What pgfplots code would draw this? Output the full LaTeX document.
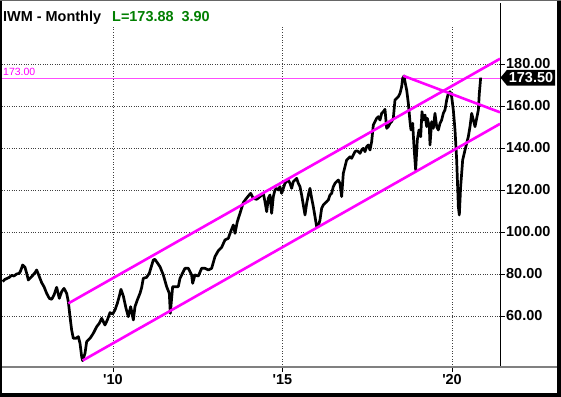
\documentclass[border=0pt]{standalone}
\usepackage{pgfplots}
\pgfplotsset{compat=1.18}
\usepackage{fontspec}
\setmainfont{Liberation Sans}
\definecolor{mag}{HTML}{FF00FF}
\definecolor{maglight}{HTML}{FF4CFF}
\definecolor{dgreen}{HTML}{007F00}
\begin{document}
\begin{tikzpicture}
\useasboundingbox (0,0) rectangle (561bp,397bp);
\fill[white] (0,0) rectangle (561bp,397bp);
\begin{axis}[
  at={(2bp,30bp)}, anchor=south west,
  scale only axis, width=498bp, height=364bp,
  xmin=2006.726, xmax=2021.416, ymin=35.71, ymax=209.05,
  axis x line*=bottom, axis y line*=right,
  x axis line style={draw=gray, line width=2bp, -},
  y axis line style={draw=black, line width=0.8bp, -},
  tick align=outside, major tick length=5bp,
  tick style={black, line width=0.8bp},
  xtick={2010,2015,2020},
  xticklabels={\textquotesingle10,\textquotesingle15,\textquotesingle20},
  ytick={60,80,100,120,140,160,180},
  yticklabels={60.00,80.00,100.00,120.00,140.00,160.00,180.00},
  ticklabel style={font=\bfseries\fontsize{14.5}{16}\selectfont},
  yticklabel style={inner xsep=1bp, inner ysep=0pt},
  xticklabel style={inner ysep=2bp},
  ymajorgrids, major grid style={dotted, black!75, line width=0.6bp},
]
\draw[dotted, black!75, line width=0.6bp] (axis cs:2010,35.71) -- (axis cs:2010,198.6);
\draw[dotted, black!75, line width=0.6bp] (axis cs:2015,35.71) -- (axis cs:2015,198.6);
\draw[dotted, black!75, line width=0.6bp] (axis cs:2020,35.71) -- (axis cs:2020,198.6);
\addplot[maglight, line width=1.4bp] coordinates {(2006.726,173) (2021.416,173)};
\addplot[black, line width=2.7bp, line join=round] coordinates {
(2006.746,76.35) (2006.814,77.46) (2006.883,77.94) (2006.942,78.41) (2007.011,79.36)
(2007.080,79.05) (2007.158,80.00) (2007.237,80.32) (2007.277,81.59) (2007.335,84.29)
(2007.404,83.17) (2007.454,80.32) (2007.503,77.14) (2007.601,78.73) (2007.699,80.63)
(2007.749,81.90) (2007.827,78.73) (2007.896,75.87) (2007.965,73.97) (2008.043,70.79)
(2008.122,68.41) (2008.191,67.94) (2008.260,70.00) (2008.338,73.65) (2008.417,68.41)
(2008.486,71.59) (2008.555,73.17) (2008.633,70.79) (2008.683,66.83) (2008.732,59.68)
(2008.781,53.33) (2008.830,49.37) (2008.909,49.37) (2008.978,50.16) (2009.027,46.98)
(2009.076,40.63) (2009.105,38.73) (2009.174,42.22) (2009.224,47.78) (2009.322,49.37)
(2009.420,51.75) (2009.519,54.92) (2009.597,56.51) (2009.666,58.89) (2009.715,57.30)
(2009.764,55.71) (2009.833,58.10) (2009.912,61.59) (2009.990,60.95) (2010.059,62.86)
(2010.128,66.03) (2010.187,69.52) (2010.236,72.70) (2010.305,69.52) (2010.384,63.65)
(2010.452,59.68) (2010.521,64.44) (2010.600,58.10) (2010.649,64.44) (2010.718,67.62)
(2010.797,70.79) (2010.845,73.50) (2010.894,77.94) (2010.993,78.41) (2011.071,80.32)
(2011.189,86.67) (2011.238,86.99) (2011.386,83.49) (2011.484,79.53) (2011.583,73.97)
(2011.661,70.79) (2011.691,61.27) (2011.760,73.97) (2011.927,73.97) (2011.976,77.94)
(2012.123,82.70) (2012.222,82.70) (2012.320,79.53) (2012.350,75.56) (2012.418,79.53)
(2012.517,79.05) (2012.615,82.70) (2012.713,82.70) (2012.812,81.90) (2012.910,82.70)
(2013.008,88.25) (2013.107,91.11) (2013.205,92.70) (2013.303,96.19) (2013.402,96.98)
(2013.471,100.16) (2013.550,103.33) (2013.599,99.37) (2013.667,104.92) (2013.746,108.89)
(2013.844,113.97) (2013.913,115.56) (2013.992,117.14) (2014.060,118.41) (2014.139,116.03)
(2014.237,115.56) (2014.336,116.83) (2014.434,118.41) (2014.483,114.45) (2014.533,109.68)
(2014.582,116.03) (2014.631,117.62) (2014.680,108.89) (2014.729,116.83) (2014.778,120.00)
(2014.828,120.79) (2014.877,120.00) (2014.926,121.59) (2014.975,118.41) (2015.024,120.79)
(2015.073,123.17) (2015.123,123.97) (2015.172,124.76) (2015.221,123.17) (2015.270,120.79)
(2015.319,123.97) (2015.369,124.76) (2015.418,125.56) (2015.467,123.17) (2015.516,121.59)
(2015.565,117.62) (2015.614,112.86) (2015.664,108.10) (2015.713,113.65) (2015.762,117.62)
(2015.811,120.79) (2015.860,116.03) (2015.909,112.06) (2015.959,107.30) (2016.008,102.54)
(2016.057,102.86) (2016.106,105.71) (2016.155,111.27) (2016.204,112.86) (2016.254,113.65)
(2016.303,114.44) (2016.352,115.24) (2016.401,117.62) (2016.450,118.41) (2016.499,121.59)
(2016.548,123.17) (2016.598,123.97) (2016.647,124.76) (2016.696,123.17) (2016.745,116.83)
(2016.794,127.94) (2016.843,131.11) (2016.893,134.29) (2016.942,135.08) (2016.991,135.87)
(2017.040,135.08) (2017.089,136.67) (2017.138,138.25) (2017.188,138.73) (2017.237,138.25)
(2017.286,137.46) (2017.335,139.05) (2017.384,139.84) (2017.433,138.25) (2017.483,140.63)
(2017.532,141.43) (2017.581,139.05) (2017.630,143.02) (2017.679,150.95) (2017.728,152.54)
(2017.778,154.13) (2017.827,154.92) (2017.876,153.33) (2017.925,156.51) (2017.974,157.30)
(2018.023,158.41) (2018.073,149.37) (2018.122,150.16) (2018.171,151.75) (2018.220,152.54)
(2018.269,154.13) (2018.318,162.86) (2018.368,163.65) (2018.417,164.44) (2018.466,166.03)
(2018.515,169.20) (2018.545,173.17) (2018.584,174.28) (2018.623,170.79) (2018.663,167.62)
(2018.712,161.27) (2018.761,152.54) (2018.790,148.57) (2018.840,151.75) (2018.879,140.63)
(2018.928,129.52) (2018.977,143.81) (2019.026,148.57) (2019.076,145.40) (2019.115,157.30)
(2019.154,153.33) (2019.204,155.71) (2019.253,150.16) (2019.272,154.13) (2019.331,150.16)
(2019.351,141.43) (2019.400,152.54) (2019.449,149.37) (2019.498,156.51) (2019.548,150.16)
(2019.597,148.57) (2019.646,151.75) (2019.695,153.33) (2019.744,156.51) (2019.793,158.10)
(2019.843,162.86) (2019.892,166.03) (2019.941,166.82) (2019.990,164.44) (2020.039,158.10)
(2020.089,148.57) (2020.138,134.29) (2020.187,112.06) (2020.216,108.09) (2020.255,121.59)
(2020.315,134.29) (2020.384,139.05) (2020.433,142.22) (2020.482,145.40) (2020.531,150.16)
(2020.580,156.51) (2020.630,153.33) (2020.679,150.16) (2020.728,154.13) (2020.777,158.10)
(2020.806,166.03) (2020.846,173.50)
};
\addplot[mag, line width=2.6bp] coordinates {(2008.683,66.0) (2021.416,182.5)};
\addplot[mag, line width=2.6bp] coordinates {(2009.105,38.8) (2021.416,151.5)};
\addplot[mag, line width=2.6bp] coordinates {(2018.56,174.4) (2021.416,157.0)};
\end{axis}
% x axis baseline extending to frame
\draw[gray, line width=2bp] (2bp,30bp) -- (557bp,30bp);
% titles
\node[anchor=base west, inner sep=0, font=\bfseries\fontsize{14.5}{16}\selectfont] at (3bp,375.5bp) {IWM - Monthly};
\node[anchor=base west, inner sep=0, text=dgreen, font=\bfseries\fontsize{14.5}{16}\selectfont] at (112bp,375.5bp) {L=173.88\ \ 3.90};
\node[anchor=base west, inner sep=0, text=mag, font=\fontsize{10.5}{12}\selectfont] at (3bp,321bp) {173.00};
% price tag
\fill[black] (500.5bp,319.4bp) -- (507bp,327.2bp) -- (555bp,327.2bp) -- (555bp,311.4bp) -- (507bp,311.4bp) -- cycle;
\node[anchor=center, inner sep=0, text=white, font=\bfseries\fontsize{14.5}{16}\selectfont] at (531bp,319.3bp) {173.50};
% frame
\fill[black] (0,0) rectangle (2bp,397bp);
\fill[black] (557bp,0) rectangle (561bp,397bp);
\fill[black] (0,0) rectangle (561bp,4bp);
\fill[black!60] (0,395.5bp) rectangle (561bp,397bp);
\end{tikzpicture}
\end{document}
